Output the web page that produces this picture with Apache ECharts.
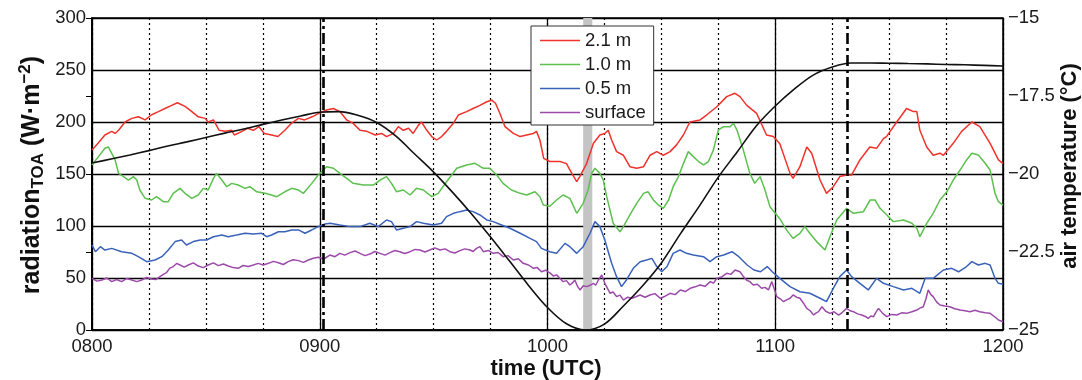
<!DOCTYPE html>
<html>
<head>
<meta charset="utf-8">
<script src="https://cdn.jsdelivr.net/npm/echarts@6/dist/echarts.min.js"></script>
<style>
html,body{margin:0;padding:0;background:#fff;}
#chart{width:1082px;height:380px;}
</style>
</head>
<body>
<div id="chart"></div>
<script>
// ---- data (x = minutes after 08:00 UTC) ----
const timeTickLabels = ['0800', '0900', '1000', '1100', '1200'];
const tempTickLabels = ['\u221225', '\u221222.5', '\u221220', '\u221217.5', '\u221215'];
const seriesNames = ['2.1 m', '1.0 m', '0.5 m', 'surface'];
const dashDotTimes = [61, 199];
const grayBand = [129.4, 131.8];

const red21 = [[0,173],[1.7,180],[3.4,187.5],[5.2,191],[6.1,189],[7,192],[8.7,200],[10.5,203.5],[12.2,205],[14,202],[15.7,207],[17.5,210],[19.2,213],[21,216],[22.5,218.5],[24.5,215],[26.3,210],[28,205],[29.8,203.5],[30.6,200],[32,202],[33.5,192],[35,191],[36.8,192],[37.5,187.5],[39.5,191],[41,194],[42.5,192],[44,195.5],[45.4,189],[47.3,187.5],[49,186],[50.8,192],[52.6,199],[54.4,203.5],[56,202],[58,205],[59.6,208],[61.8,211.5],[63.6,213],[65.3,210],[67.1,202],[68.8,198.7],[70.6,192],[72.4,191],[74.6,187.5],[76.3,189],[77.6,186],[79.4,189],[80.7,195.5],[82,192],[83.4,194],[84.6,189],[86,197],[86.8,200],[88.2,192],[89.5,186],[90.8,182.7],[92.1,186],[93.4,191],[95.2,198.7],[96.5,206.7],[98.7,210],[100.4,213],[102.2,216],[104,219.5],[105.3,221],[106.3,218],[107.5,208],[108.8,195.5],[111,189],[112.8,186],[114.5,187.5],[116.3,189],[117.1,191],[118,182.7],[119,165],[120.6,162],[123.3,162],[125,160],[126.4,150.6],[127.7,142.6],[128.5,147.5],[130.3,160],[132.1,179.5],[133.8,187.5],[135.1,189],[136,192],[136.9,182.7],[138.2,171.5],[140,168],[141.7,157],[143.5,155.5],[145.3,157],[147,168],[148.8,171.5],[150.5,168],[152.3,171.5],[154,178],[155.8,187.5],[157.5,200],[160.2,202],[161.9,206.7],[164.6,214.7],[167.2,224.4],[169.4,227.6],[170.7,224.4],[172.5,216],[175.1,208.3],[177.7,187.5],[179.5,186],[181.2,179],[183.9,150.6],[184.7,145.8],[186.5,157],[188.3,176],[189.6,170],[191.8,144.2],[193.5,131.4],[195.3,137.8],[197,147.5],[198.8,149],[200.1,149],[202.3,163.5],[204.9,176],[206.7,174.7],[208.5,184],[209.3,186],[212,200],[214.6,213],[216.4,210],[217.3,210],[218.1,192],[219.9,176],[221.6,168],[223.4,170],[224.3,168],[226.9,179.5],[229.1,191],[231.8,200],[233.9,195.5],[236.6,179.5],[238.8,163.5],[240,160]];

const green10 = [[0,158.7],[1.7,166.7],[3.4,174.7],[4.3,176],[6.1,163.5],[7,150.6],[8.3,147.5],[9.6,144.2],[10.9,147.5],[11.8,144.2],[12.6,134.6],[14,126.6],[15.7,125],[17,128.2],[18.8,123.4],[20.1,123.4],[21.4,131.4],[23.2,136.2],[24.5,131.4],[26.3,126.6],[28,129.8],[29.3,136.2],[30.6,134.6],[32,145.8],[32.8,150.6],[34.2,144.2],[35.5,137.8],[36.8,141],[38.5,139.4],[40.3,136.2],[41.6,137.8],[43.4,132.9],[45.6,131.4],[47.3,129.8],[48.7,128.2],[50.8,132.9],[52.6,136.2],[54.4,134.6],[55.7,131.4],[57.9,141],[59.6,149],[61.8,157],[63.6,155.5],[65.3,150.6],[67.1,145.8],[68.8,141],[71.5,139.4],[74.1,139.4],[75.9,144.2],[77.6,147.5],[78.9,141],[80.2,133],[82,134.6],[83.8,129.8],[85.5,136.2],[87.3,134.6],[89.5,128.2],[91.2,131.4],[93.4,142.6],[96.1,155.5],[98.7,158.7],[100.9,160.3],[103.1,155.5],[104.8,155.5],[106.6,149],[108.3,141],[110.5,134.6],[112.8,131.4],[114.5,129.8],[116.7,132.9],[118,128.2],[118.9,120.2],[120.6,119],[122.4,125],[124.1,129.8],[125.9,126.6],[127.7,112.2],[129.4,121.8],[130.7,134.6],[131.6,150.6],[132.5,155.5],[133.8,150.6],[134.7,144.2],[135.6,128.2],[137.3,102.6],[139.1,94.5],[140,99.4],[141.7,110.6],[143.5,121.8],[145.3,131.4],[146.5,132.9],[147.9,125],[149.2,120.2],[150.5,117],[151.9,125],[153.1,137.8],[154.5,147.5],[155.8,160],[157.1,171.5],[158.4,166.7],[159.8,162],[161.1,158.7],[162.4,162],[163.7,173],[165,192.3],[166.4,195.5],[168.1,195.5],[169,198.7],[169.9,192.3],[171.6,173],[173.3,150.6],[174.6,141],[176,147.5],[177.3,134.6],[178.6,118.6],[181.2,107],[183,96],[184.7,88.1],[186.5,93],[187.8,99.4],[189.1,93],[190.9,85],[193.1,77],[194.4,89.7],[196.2,105.8],[198.8,117],[200.6,112.2],[203.2,113.7],[205,125],[206.3,125],[207.6,117],[209.4,110.6],[211.1,104.2],[213.8,105.8],[216,102.6],[217.3,97.8],[218.1,89.7],[219.9,102.6],[221.6,112.2],[223.4,125],[225.2,132.9],[226.9,144.2],[228.7,153.8],[230.4,163.5],[231.8,170],[233.5,168.3],[235.3,160.3],[236.6,153.8],[237.9,131.4],[238.8,123.4],[240,120]];

const blue05 = [[0,81.7],[0.9,75.3],[2.2,80.1],[3.4,76.9],[5.2,78.5],[7.8,75.3],[10.5,73.7],[12.2,70.5],[14.4,65.7],[16.6,67.3],[18.4,70.5],[20.1,76.9],[21.9,85],[23.6,86.5],[24.9,81.7],[26.7,85],[28.5,86.5],[30.2,86.5],[32,89.7],[34.2,91.3],[35.9,89.7],[38.1,91.3],[40.3,93],[42.5,92.3],[44.7,93],[46,89.7],[47.3,91.3],[49.1,94.5],[50.8,94.5],[52.6,96.2],[54.4,96.2],[56.1,93],[57.9,96.2],[59.6,99.4],[61.4,101.9],[62.7,102.6],[65.3,101],[68,99.4],[70.6,99.4],[73.2,102.6],[75.4,99.4],[77.6,105.8],[78.9,104.2],[80.2,96.2],[82,97.8],[83.8,99.4],[85.5,104.2],[87.3,102.6],[89.9,101],[92.1,102.6],[93.4,109],[95.2,112.2],[96.9,113.8],[98.7,115.4],[100.4,113.8],[102.2,110.6],[104,105.8],[105.7,104.2],[107.9,101],[110.1,97.8],[112.8,93],[115.4,88.1],[117.1,85],[118.4,78.5],[120.6,75.3],[122.4,73.7],[124.6,83.3],[125.9,80.1],[127.7,73.7],[129.4,80.1],[131.2,93],[132.5,104.2],[133.8,99.4],[135.1,86.5],[136.9,64.1],[138.2,51.3],[139.5,41.7],[140.8,48.1],[142.6,59.3],[144.4,65.7],[146.1,67.3],[147.5,68.9],[148.8,61],[150.1,56],[151.5,61],[153.1,73.7],[154.9,76.9],[156.6,73.7],[158.4,72.1],[161.1,70.5],[162.8,65.7],[164.6,70.5],[166.4,72.1],[168.6,75.3],[170.4,70.5],[172.6,62.5],[174.4,57.7],[176.1,56],[177.9,61],[179.2,56],[181.2,49.7],[183.9,41.7],[186.5,36.8],[189.1,35.3],[191.8,30.5],[193.5,27.2],[195.3,40.1],[197,51.3],[198.8,57.7],[200.1,51.3],[202.3,44.9],[204.5,38.5],[206.7,49.7],[208.5,44.9],[211.1,41.7],[213.8,38.5],[216,40.1],[218.1,35.3],[219.5,49.7],[221.6,49.7],[224.3,57.7],[226.5,59.3],[228.3,56],[230.4,61],[231.8,65.7],[233.5,62.5],[235.3,64.1],[236.6,62.5],[237.9,49.7],[238.8,44.9],[240,44]];

const surface = [[0,49.7],[1.3,47],[2.6,48.1],[3.9,50],[5.2,46.5],[6.5,48.5],[7.8,46.5],[9.1,49.5],[10.5,48.1],[11.8,46.5],[13.1,48.1],[14.4,50.5],[15.7,49],[16.8,48.5],[17.9,51.3],[18.8,53.5],[19.6,55.1],[20.5,59.5],[21.4,61],[22.3,64],[23.2,62.5],[24.3,60.5],[25.4,62.5],[26.7,64.5],[28,61.5],[29.3,60],[30.6,62.5],[32,64.5],[33.3,61.9],[34.6,63.5],[35.9,61.5],[37.2,60],[38.5,59.3],[39.8,62],[41.2,61],[42.5,62.5],[43.8,64.1],[45.1,62.5],[46.5,64.1],[47.8,66],[49.1,64.7],[50.4,63],[51.7,65.7],[53,67.5],[54.4,66.7],[55.7,65],[57,67.3],[58.3,69],[59.6,69.9],[61.1,68.5],[62.7,72.1],[64,70.5],[65.3,73.7],[66.6,72],[68,74.4],[69.3,76],[70.6,73.7],[71.9,71.5],[73.2,73],[74.5,75.5],[75.9,73.7],[77.2,72],[78.5,74.4],[79.8,76.5],[81.1,75.3],[82.4,73.5],[83.8,75.3],[85.1,77.5],[86.4,76.9],[87.7,75],[89,76.9],[90.3,79],[91.7,76.9],[93,78],[94.3,75.3],[95.6,74],[96.9,76.3],[98.2,78],[99.6,76.9],[100.4,75.5],[101.3,78.5],[102.2,80.1],[103.1,75.3],[104.4,76.5],[105.7,73.7],[107,74.5],[108.3,70.5],[109.6,71.5],[111,67.3],[112.3,68.5],[113.6,64.1],[115,62.5],[116.3,59.3],[117.3,60],[118.4,56],[119.5,57.5],[120.6,55],[121.5,52],[122.4,53],[123.2,50],[124.1,46.5],[125,47.5],[125.9,43.3],[126.5,45],[127.2,48.1],[127.9,42],[128.6,38.5],[129.4,42.5],[130.3,41.7],[131.2,43],[132.1,44.9],[132.7,43],[133.4,48.1],[134.3,52.9],[135.1,44.9],[135.8,40],[136.5,35.3],[137.3,36.5],[138.2,32.1],[139.1,33.5],[140,28.8],[141.1,31.5],[142.2,30.5],[143.3,32],[144.4,33.7],[145.7,31.5],[147,33.7],[148.3,35],[149.7,30.5],[151,32.5],[152.3,35.3],[153.6,34],[155,38.5],[156.3,37],[157.6,40.1],[158.9,41.5],[160.2,43.3],[161.5,42],[162.9,46.5],[163.7,45],[164.6,49.7],[165.9,51],[167.2,54.5],[168.3,53.5],[169.4,57.7],[170.7,56],[171.5,52],[172.4,48.1],[173.3,46.5],[174.2,43.3],[175.3,44],[176.4,40.1],[177.3,41],[178.2,38.5],[179.1,46.5],[180.4,32.1],[181.3,30],[182.2,27.2],[183,29],[183.9,30.5],[184.7,33.7],[185.6,31.5],[186.5,30.5],[187.4,26],[188.3,20.8],[189.2,18.5],[190.1,14.4],[190.8,16.5],[191.4,17.6],[192.3,22.4],[193.3,18],[194.4,16],[195.5,17.5],[196.7,14.4],[197.7,17],[198.8,20.8],[199.7,18.5],[200.6,17.6],[201.7,15.5],[202.8,14.4],[203.7,13],[204.5,11.2],[205.2,13.5],[205.9,12.8],[206.5,17],[207.2,20.8],[208.3,16],[209.4,12.8],[210.7,15],[212,14.4],[213.3,16.5],[214.6,16],[216,17.5],[217.3,19.2],[218.1,21],[219,22.4],[219.7,30],[220.3,38.5],[221,34],[221.6,32.1],[222.5,27],[223.4,24],[224.7,23],[226,22.4],[227.3,20.5],[228.7,19.2],[230,18.5],[231.3,17.6],[232.6,19],[233.9,17.6],[235.3,16.5],[236.6,16],[237.7,13],[238.8,9.6],[240,8]];

const tempTimes = [0,5,10,15,20,25,30,35,40,45,50,55,60,65,70,75,80,85,90,95,100,105,110,115,120,125,130,135,140,145,150,155,160,165,170,175,180,185,190,195,200,205,210,215,220,225,230,235,240];
const airTemp = [-19.65,-19.52,-19.39,-19.25,-19.10,-18.97,-18.83,-18.69,-18.56,-18.41,-18.27,-18.14,-18.02,-18.00,-18.12,-18.35,-18.78,-19.36,-19.94,-20.59,-21.28,-22.02,-22.79,-23.57,-24.28,-24.80,-25.00,-24.81,-24.23,-23.59,-22.85,-21.92,-21.03,-20.10,-19.29,-18.46,-17.82,-17.28,-16.83,-16.57,-16.44,-16.44,-16.45,-16.46,-16.47,-16.49,-16.50,-16.52,-16.54];

// ---- chart ----
const FONT = 'Liberation Sans, Arial, Helvetica, sans-serif';
const colors = ['#f0322c', '#5cc04e', '#3a62bb', '#9c4aaa'];
const chart = echarts.init(document.getElementById('chart'), null, {renderer: 'canvas'});

function lineSeries(name, data, color) {
  return {
    name: name, type: 'line', data: data, xAxisIndex: 0, yAxisIndex: 0,
    symbol: 'none', showSymbol: false, smooth: false,
    lineStyle: {color: color, width: 1.5}, itemStyle: {color: color},
    z: 3, animation: false
  };
}

const series = [
  lineSeries(seriesNames[0], red21, colors[0]),
  lineSeries(seriesNames[1], green10, colors[1]),
  lineSeries(seriesNames[2], blue05, colors[2]),
  lineSeries(seriesNames[3], surface, colors[3]),
  {
    name: 'air temperature', type: 'line', xAxisIndex: 0, yAxisIndex: 1,
    data: tempTimes.map((t, i) => [t, airTemp[i]]),
    symbol: 'none', smooth: 0.35,
    lineStyle: {color: '#111', width: 1.6}, z: 4, animation: false,
    markArea: {
      silent: true,
      itemStyle: {color: '#c4c4c4'},
      data: [[{xAxis: grayBand[0]}, {xAxis: grayBand[1]}]]
    },
    markLine: {
      silent: true, symbol: 'none', label: {show: false},
      lineStyle: {color: '#000', width: 2.6, type: [11, 4, 3, 4]},
      data: dashDotTimes.map(t => ({xAxis: t}))
    }
  }
];

chart.setOption({
  animation: false,
  backgroundColor: '#fff',
  grid: {left: 92, right: 79, top: 18, bottom: 50, show: true, borderColor: '#000', borderWidth: 1.5, backgroundColor: 'transparent'},
  xAxis: [
    {
      type: 'value', min: 0, max: 240, interval: 60, position: 'bottom', z: 2,
      axisLine: {show: true, lineStyle: {color: '#000', width: 1.5}},
      axisTick: {show: false},
      axisLabel: {fontSize: 18.5, fontFamily: FONT, color: '#1a1a1a', margin: 7,
        formatter: v => timeTickLabels[Math.round(v / 60)]},
      splitLine: {show: true, lineStyle: {color: '#000', width: 1.3, type: 'solid'}}
    },
    {
      type: 'value', min: 0, max: 240, interval: 15, position: 'top', z: 1,
      axisLine: {show: false}, axisTick: {show: false}, axisLabel: {show: false},
      splitLine: {show: true, lineStyle: {color: '#000', width: 1.2, type: [2, 3]}}
    }
  ],
  yAxis: [
    {
      type: 'value', min: 0, max: 300, interval: 50, position: 'left',
      axisLine: {show: true, lineStyle: {color: '#000', width: 1.5}},
      axisTick: {show: true, inside: true, length: 6, lineStyle: {color: '#000'}},
      axisLabel: {fontSize: 18.5, fontFamily: FONT, color: '#1a1a1a', margin: 6},
      splitLine: {show: true, lineStyle: {color: '#000', width: 1.3}}
    },
    {
      type: 'value', min: -25, max: -15, interval: 2.5, position: 'right',
      axisLine: {show: true, lineStyle: {color: '#000', width: 1.5}},
      axisTick: {show: true, inside: true, length: 6, lineStyle: {color: '#000'}},
      axisLabel: {fontSize: 18.5, fontFamily: FONT, color: '#1a1a1a', margin: 5,
        formatter: v => tempTickLabels[Math.round((v + 25) / 2.5)]},
      splitLine: {show: false}
    }
  ],
  legend: {
    data: seriesNames.map(n => ({name: n, icon: 'rect'})),
    orient: 'vertical', left: 531, top: 26,
    backgroundColor: '#fff', borderColor: '#333', borderWidth: 1,
    padding: [5, 8, 3, 9], itemWidth: 40, itemHeight: 1.6, itemGap: 5,
    textStyle: {fontSize: 18.5, fontFamily: FONT, color: '#1a1a1a', lineHeight: 19},
    z: 10
  },
  graphic: [
    {
      type: 'text', x: 32, y: 175, rotation: Math.PI / 2,
      style: {
        text: '{a|radiation}{s|TOA}{a| (W\u00b7m}{p|\u22122}{a|)}',
        textAlign: 'center', textVerticalAlign: 'middle', fill: '#111',
        rich: {
          a: {fontSize: 25, fontWeight: 'bold', fontFamily: FONT, lineHeight: 30, fill: '#111'},
          s: {fontSize: 17, fontWeight: 'bold', fontFamily: FONT, lineHeight: 12, verticalAlign: 'bottom', fill: '#111'},
          p: {fontSize: 17, fontWeight: 'bold', fontFamily: FONT, lineHeight: 17, verticalAlign: 'top', fill: '#111'}
        }
      }
    },
    {
      type: 'text', x: 1070, y: 166, rotation: Math.PI / 2,
      style: {text: 'air temperature (\u00b0C)', font: 'bold 22px ' + FONT, fill: '#111', textAlign: 'center', textVerticalAlign: 'middle'}
    },
    {
      type: 'text', x: 546, y: 369,
      style: {text: 'time (UTC)', font: 'bold 22px ' + FONT, fill: '#111', textAlign: 'center', textVerticalAlign: 'middle'}
    }
  ],
  series: series
});
</script>
</body>
</html>
